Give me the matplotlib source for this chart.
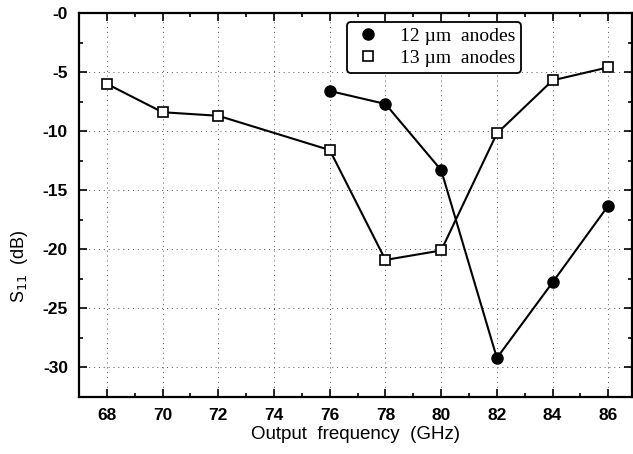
import numpy as np
import matplotlib.pyplot as plt
from matplotlib.ticker import MultipleLocator

# data
freq_12 = [76, 78, 80, 82, 84, 86]
s11_12 = [-6.6, -7.7, -13.3, -29.2, -22.8, -16.3]

freq_13 = [68, 70, 72, 76, 78, 80, 82, 84, 86]
s11_13 = [-6.0, -8.4, -8.7, -11.6, -20.9, -20.1, -10.2, -5.7, -4.6]

xticks = np.arange(68, 87, 2)
yticks = np.arange(-30, 1, 5)

plt.rcParams['font.family'] = ['Liberation Sans', 'DejaVu Sans']

fig = plt.figure(figsize=(6.33, 4.54), dpi=100)
ax = fig.add_axes([0.1248, 0.1256, 0.8736, 0.8458])

ax.plot(freq_12, s11_12, '-o', color='black', lw=1.5, markersize=8,
        markerfacecolor='black', label='12 µm  anodes', zorder=3)
ax.plot(freq_13, s11_13, '-s', color='black', lw=1.5, markersize=7.8,
        markerfacecolor='white', markeredgewidth=1.2, label='13 µm  anodes', zorder=3)

ax.set_xlim(67, 86.85)
ax.set_ylim(-32.5, 0)
ax.set_xticks(xticks)
ax.set_yticks(yticks)
ax.set_yticklabels(['-%d' % abs(v) for v in yticks])
ax.xaxis.set_minor_locator(MultipleLocator(1))
ax.yaxis.set_minor_locator(MultipleLocator(2.5))
ax.tick_params(which='both', direction='in', top=True, right=True, width=1.2)
ax.tick_params(which='major', length=6, labelsize=12.5, pad=8)
ax.tick_params(which='minor', length=3)
for lab in ax.get_xticklabels() + ax.get_yticklabels():
    lab.set_fontweight('bold')

ax.grid(True, which='major', color='#555555', lw=0.7, linestyle=(0, (1, 4)))
for sp in ax.spines.values():
    sp.set_linewidth(1.6)

ax.set_xlabel('Output  frequency  (GHz)', fontsize=13.5)
ax.xaxis.set_label_coords(0.5, -0.075)
ax.set_ylabel('S$_{11}$  (dB)', fontsize=13)
ax.yaxis.set_label_coords(-0.088, 0.34)

leg = ax.legend(loc='upper left', bbox_to_anchor=(0.485, 0.977), fancybox=True,
                framealpha=1, edgecolor='black', prop={'family': 'Liberation Serif', 'size': 14},
                handlelength=1.5, handletextpad=0.9, borderpad=0.3, labelspacing=0.2,
                borderaxespad=0)
leg.get_frame().set_linewidth(1.3)
for h in leg.legend_handles:
    h.set_linestyle('none')

fig.savefig('out.png', dpi=100)
